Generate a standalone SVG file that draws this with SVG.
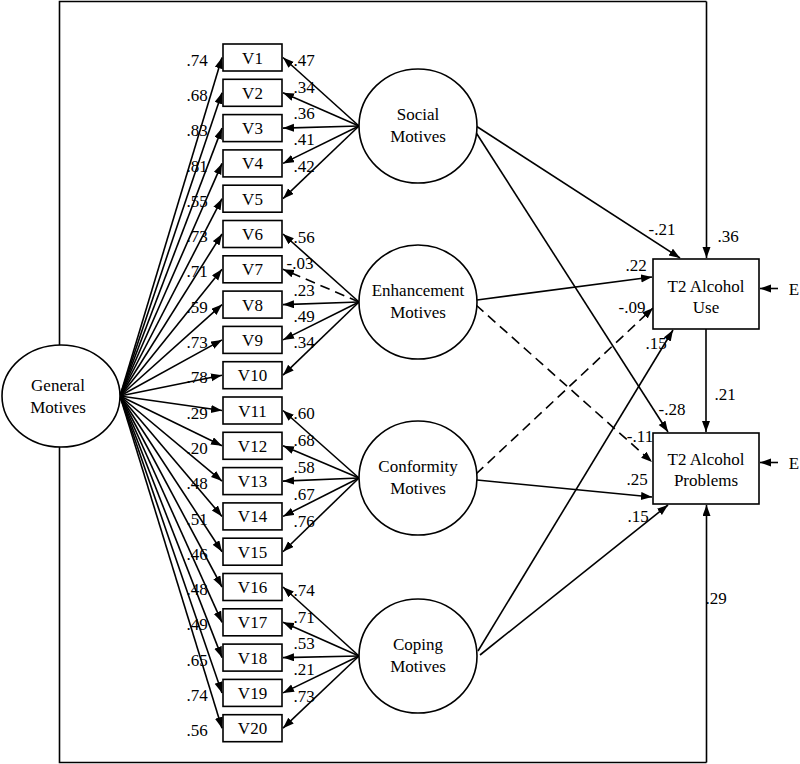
<svg xmlns="http://www.w3.org/2000/svg" width="800" height="764" viewBox="0 0 800 764">
<style>
text{font-family:"Liberation Serif","Times New Roman",serif;font-size:17px;fill:#000;text-anchor:middle}
.n{fill:#fff;stroke:#000;stroke-width:1.6}
.c{fill:none;stroke:#000;stroke-width:1.6;marker-end:url(#ah)}
.f{fill:none;stroke:#000;stroke-width:1.6}
.d{stroke-dasharray:10 6}
</style>
<defs>
<marker id="ah" markerWidth="12" markerHeight="10" refX="11" refY="4" orient="auto" markerUnits="userSpaceOnUse"><path d="M0,0 L11,4 L0,8 z" fill="#000"/></marker>
</defs>
<rect width="800" height="764" fill="#fff"/>
<g id="connectors">
<path class="f" d="M59.5,345 V1.5 H706.5"/>
<path class="c" d="M706.5,1.5 V258"/>
<path class="f" d="M59.5,447 V762.5 H706.5"/>
<path class="c" d="M706.5,762.5 V505"/>
<path class="c" d="M706,329 V432"/>
<path class="c" d="M778,288.5 H760"/>
<path class="c" d="M778,462.5 H760"/>
<!-- General loadings -->
<path class="c" d="M120,396 L222,57.5"/>
<path class="c" d="M120,396 L222,92.8"/>
<path class="c" d="M120,396 L222,128.1"/>
<path class="c" d="M120,396 L222,163.4"/>
<path class="c" d="M120,396 L222,198.7"/>
<path class="c" d="M120,396 L222,234"/>
<path class="c" d="M120,396 L222,269.3"/>
<path class="c" d="M120,396 L222,304.6"/>
<path class="c" d="M120,396 L222,339.9"/>
<path class="c" d="M120,396 L222,375.2"/>
<path class="c" d="M120,396 L222,410.5"/>
<path class="c" d="M120,396 L222,445.8"/>
<path class="c" d="M120,396 L222,481.1"/>
<path class="c" d="M120,396 L222,516.4"/>
<path class="c" d="M120,396 L222,551.7"/>
<path class="c" d="M120,396 L222,587"/>
<path class="c" d="M120,396 L222,622.3"/>
<path class="c" d="M120,396 L222,657.6"/>
<path class="c" d="M120,396 L222,692.9"/>
<path class="c" d="M120,396 L222,728.2"/>
<!-- Social -->
<path class="c" d="M359,126 L283,57.5"/>
<path class="c" d="M359,126 L283,92.8"/>
<path class="c" d="M359,126 L283,128.1"/>
<path class="c" d="M359,126 L283,163.4"/>
<path class="c" d="M359,126 L283,198.7"/>
<!-- Enhancement -->
<path class="c" d="M359,302 L283,234"/>
<path class="c d" d="M359,302 L283,269.3"/>
<path class="c" d="M359,302 L283,304.6"/>
<path class="c" d="M359,302 L283,339.9"/>
<path class="c" d="M359,302 L283,375.2"/>
<!-- Conformity -->
<path class="c" d="M359,478 L283,410.5"/>
<path class="c" d="M359,478 L283,445.8"/>
<path class="c" d="M359,478 L283,481.1"/>
<path class="c" d="M359,478 L283,516.4"/>
<path class="c" d="M359,478 L283,551.7"/>
<!-- Coping -->
<path class="c" d="M359,656 L283,587"/>
<path class="c" d="M359,656 L283,622.3"/>
<path class="c" d="M359,656 L283,657.6"/>
<path class="c" d="M359,656 L283,692.9"/>
<path class="c" d="M359,656 L283,728.2"/>
<!-- structural -->
<path class="c" d="M476,126 L680,258"/>
<path class="c" d="M475,131 L668,432"/>
<path class="c" d="M477,300 L652,277"/>
<path class="c d" d="M476,305 L652,462"/>
<path class="c d" d="M476,474 L653,308"/>
<path class="c" d="M477,480 L652,497"/>
<path class="c" d="M478,651 L673,330"/>
<path class="c" d="M480,655 L668,505"/>
</g>
<g id="labels">
<text x="197" y="65.5">.74</text>
<text x="197" y="101">.68</text>
<text x="197" y="136">.83</text>
<text x="197" y="171.5">.81</text>
<text x="197" y="207">.55</text>
<text x="197" y="242">.73</text>
<text x="197" y="277">.71</text>
<text x="197" y="312.5">.59</text>
<text x="197" y="348">.73</text>
<text x="197" y="383">.78</text>
<text x="197" y="418.5">.29</text>
<text x="197" y="454">.20</text>
<text x="197" y="489">.48</text>
<text x="197" y="524.5">.51</text>
<text x="197" y="560">.46</text>
<text x="197" y="595">.48</text>
<text x="197" y="630">.49</text>
<text x="197" y="665.5">.65</text>
<text x="197" y="701">.74</text>
<text x="197" y="736">.56</text>
<text x="304" y="66">.47</text>
<text x="304" y="93">.34</text>
<text x="304" y="119">.36</text>
<text x="304" y="145">.41</text>
<text x="304" y="172">.42</text>
<text x="304" y="243">.56</text>
<text x="300" y="269">-.03</text>
<text x="304" y="296">.23</text>
<text x="304" y="322">.49</text>
<text x="304" y="348">.34</text>
<text x="304" y="419">.60</text>
<text x="304" y="446">.68</text>
<text x="304" y="473">.58</text>
<text x="304" y="500">.67</text>
<text x="304" y="527">.76</text>
<text x="304" y="596">.74</text>
<text x="304" y="623">.71</text>
<text x="304" y="649">.53</text>
<text x="304" y="675">.21</text>
<text x="304" y="702">.73</text>
<text x="662" y="235">-.21</text>
<text x="728" y="242">.36</text>
<text x="636" y="271">.22</text>
<text x="632" y="313">-.09</text>
<text x="656" y="349">.15</text>
<text x="725" y="400">.21</text>
<text x="672" y="415">-.28</text>
<text x="640" y="442">-.11</text>
<text x="637" y="485">.25</text>
<text x="638" y="522">.15</text>
<text x="716" y="604">.29</text>
<text x="794" y="295">E</text>
<text x="794" y="469">E</text>
</g>
<g id="general"><ellipse class="n" cx="61" cy="396" rx="59" ry="51"/><text x="58" y="391">General</text><text x="58" y="413">Motives</text></g>
<g id="social"><ellipse class="n" cx="418" cy="126" rx="59" ry="57"/><text x="418" y="120">Social</text><text x="418" y="142">Motives</text></g>
<g id="enhancement"><ellipse class="n" cx="418" cy="302" rx="59" ry="57"/><text x="418" y="296">Enhancement</text><text x="418" y="318">Motives</text></g>
<g id="conformity"><ellipse class="n" cx="418" cy="478" rx="59" ry="57"/><text x="418" y="472">Conformity</text><text x="418" y="494">Motives</text></g>
<g id="coping"><ellipse class="n" cx="418" cy="656" rx="59" ry="57"/><text x="418" y="650">Coping</text><text x="418" y="672">Motives</text></g>
<g id="use"><rect class="n" x="653" y="259" width="106" height="70"/><text x="706" y="292">T2 Alcohol</text><text x="706" y="313">Use</text></g>
<g id="problems"><rect class="n" x="653" y="433" width="106" height="71"/><text x="706" y="465">T2 Alcohol</text><text x="706" y="486">Problems</text></g>
<g id="v1"><rect class="n" x="223" y="44" width="59" height="27"/><text x="252.5" y="63.5">V1</text></g>
<g id="v2"><rect class="n" x="223" y="79.3" width="59" height="27"/><text x="252.5" y="98.8">V2</text></g>
<g id="v3"><rect class="n" x="223" y="114.6" width="59" height="27"/><text x="252.5" y="134.1">V3</text></g>
<g id="v4"><rect class="n" x="223" y="149.9" width="59" height="27"/><text x="252.5" y="169.4">V4</text></g>
<g id="v5"><rect class="n" x="223" y="185.2" width="59" height="27"/><text x="252.5" y="204.7">V5</text></g>
<g id="v6"><rect class="n" x="223" y="220.5" width="59" height="27"/><text x="252.5" y="240">V6</text></g>
<g id="v7"><rect class="n" x="223" y="255.8" width="59" height="27"/><text x="252.5" y="275.3">V7</text></g>
<g id="v8"><rect class="n" x="223" y="291.1" width="59" height="27"/><text x="252.5" y="310.6">V8</text></g>
<g id="v9"><rect class="n" x="223" y="326.4" width="59" height="27"/><text x="252.5" y="345.9">V9</text></g>
<g id="v10"><rect class="n" x="223" y="361.7" width="59" height="27"/><text x="252.5" y="381.2">V10</text></g>
<g id="v11"><rect class="n" x="223" y="397" width="59" height="27"/><text x="252.5" y="416.5">V11</text></g>
<g id="v12"><rect class="n" x="223" y="432.3" width="59" height="27"/><text x="252.5" y="451.8">V12</text></g>
<g id="v13"><rect class="n" x="223" y="467.6" width="59" height="27"/><text x="252.5" y="487.1">V13</text></g>
<g id="v14"><rect class="n" x="223" y="502.9" width="59" height="27"/><text x="252.5" y="522.4">V14</text></g>
<g id="v15"><rect class="n" x="223" y="538.2" width="59" height="27"/><text x="252.5" y="557.7">V15</text></g>
<g id="v16"><rect class="n" x="223" y="573.5" width="59" height="27"/><text x="252.5" y="593">V16</text></g>
<g id="v17"><rect class="n" x="223" y="608.8" width="59" height="27"/><text x="252.5" y="628.3">V17</text></g>
<g id="v18"><rect class="n" x="223" y="644.1" width="59" height="27"/><text x="252.5" y="663.6">V18</text></g>
<g id="v19"><rect class="n" x="223" y="679.4" width="59" height="27"/><text x="252.5" y="698.9">V19</text></g>
<g id="v20"><rect class="n" x="223" y="714.7" width="59" height="27"/><text x="252.5" y="734.2">V20</text></g>
</svg>
